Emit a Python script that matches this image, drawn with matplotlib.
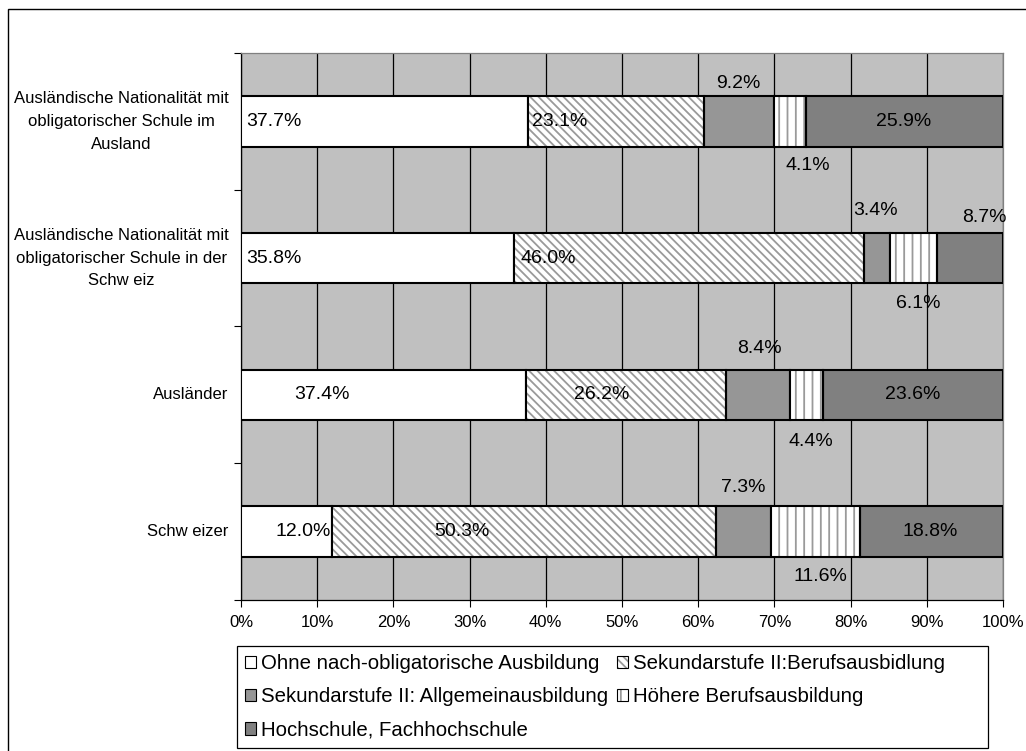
import matplotlib
matplotlib.use("Agg")
import matplotlib.pyplot as plt
from matplotlib.patches import Rectangle, Patch
from matplotlib.legend_handler import HandlerTuple

plt.rcParams["font.family"] = ["Liberation Sans", "DejaVu Sans"]
plt.rcParams["hatch.linewidth"] = 1.3

# categories, bottom to top
categories = [
    "Schw eizer",
    "Ausländer",
    "Ausländische Nationalität mit\nobligatorischer Schule in der\nSchw eiz",
    "Ausländische Nationalität mit\nobligatorischer Schule im\nAusland",
]
series = [
    "Ohne nach-obligatorische Ausbildung",
    "Sekundarstufe II:Berufsausbidlung",
    "Sekundarstufe II: Allgemeinausbildung",
    "Höhere Berufsausbildung",
    "Hochschule, Fachhochschule",
]
ohne = [12.0, 37.4, 35.8, 37.7]
berufs = [50.3, 26.2, 46.0, 23.1]
allgemein = [7.3, 8.4, 3.4, 9.2]
hoehere = [11.6, 4.4, 6.1, 4.1]
hochschule = [18.8, 23.6, 8.7, 25.9]
values = [ohne, berufs, allgemein, hoehere, hochschule]

# label placement (as dragged in the original): x in %, y offset in category units
label_x = [
    [8.1, 29.0, 65.9, 76.1, 90.4],
    [10.6, 47.3, 68.1, 74.8, 88.2],
    [4.3, 40.3, 83.3, 88.9, 97.6],
    [4.3, 41.8, 65.2, 74.4, 86.9],
]
label_dy = [
    [0, 0, 0.32, -0.33, 0],
    [0, 0, 0.34, -0.34, 0],
    [0, 0, 0.35, -0.33, 0.30],
    [0, 0, 0.28, -0.32, 0],
]

styles = [
    dict(face="white", hatch=None, hcol=None),
    dict(face="white", hatch="\\\\\\\\", hcol="#9a9a9a"),
    dict(face="#969696", hatch=None, hcol=None),
    dict(face="white", hatch="||", hcol="#9a9a9a"),
    dict(face="#808080", hatch=None, hcol=None),
]

fig = plt.figure(figsize=(10.26, 7.51), dpi=100)
ax = fig.add_axes([241 / 1026, 1 - 600 / 751, 762 / 1026, 547 / 751])
ax.set_facecolor("#c0c0c0")

ypos = list(range(len(categories)))
bar_h = 0.37
left = [0.0] * len(categories)
handles = []
for vals, st, name in zip(values, styles, series):
    if st["hatch"]:
        ax.barh(ypos, vals, left=left, height=bar_h, color=st["face"],
                hatch=st["hatch"], edgecolor=st["hcol"], linewidth=0, zorder=3)
        ax.barh(ypos, vals, left=left, height=bar_h, fill=False,
                edgecolor="black", linewidth=1.5, zorder=4)
        h = (Patch(facecolor=st["face"], hatch=st["hatch"], edgecolor=st["hcol"], linewidth=0),
             Patch(fill=False, edgecolor="black", linewidth=0.8))
    else:
        ax.barh(ypos, vals, left=left, height=bar_h, color=st["face"],
                edgecolor="black", linewidth=1.5, zorder=3)
        h = Patch(facecolor=st["face"], edgecolor="black", linewidth=0.8)
    handles.append(h)
    left = [l + v for l, v in zip(left, vals)]

for i in ypos:
    for j, vals in enumerate(values):
        ax.text(label_x[i][j], i + label_dy[i][j], f"{vals[i]:.1f}%",
                ha="center", va="center", fontsize=14, zorder=5)

ax.set_xlim(0, 100)
ax.set_ylim(-0.5, len(categories) - 0.5)
ax.set_xticks(range(0, 101, 10))
ax.set_xticklabels([f"{t}%" for t in range(0, 101, 10)])
ax.set_yticks(ypos)
ax.set_yticklabels(categories)
ax.set_yticks([k - 0.5 for k in range(len(categories) + 1)], minor=True)
for lbl in ax.get_yticklabels():
    lbl.set_multialignment("center")
    lbl.set_linespacing(1.65)
    lbl.set_verticalalignment("center")
ax.tick_params(axis="y", which="major", length=0, pad=9, labelsize=12)
ax.tick_params(axis="y", which="minor", length=5, width=0.8, direction="out")
ax.tick_params(axis="x", length=5, width=0.8, direction="out", pad=6, labelsize=12)
ax.grid(axis="x", color="black", linewidth=0.9, zorder=1)
ax.set_axisbelow(True)
for s in ["top", "right"]:
    ax.spines[s].set_color("#808080")
    ax.spines[s].set_linewidth(0.9)
for s in ["left", "bottom"]:
    ax.spines[s].set_color("black")
    ax.spines[s].set_linewidth(0.9)

# legend box
fig.patches.append(Rectangle((237 / 1026, 1 - 748 / 751), (988 - 237) / 1026, 102 / 751,
                             transform=fig.transFigure, fill=False,
                             edgecolor="black", linewidth=0.9))
order = [0, 2, 4, 1, 3]
fig.legend([handles[k] for k in order], [series[k] for k in order],
           handler_map={tuple: HandlerTuple(ndivide=1, pad=0)},
           loc="upper left", bbox_to_anchor=(245 / 1026, 1 - 654 / 751),
           ncol=2, frameon=False, fontsize=14.7, handlelength=0.55,
           handleheight=0.55, handletextpad=0.25, columnspacing=0.4,
           labelspacing=0.7, borderpad=0, borderaxespad=0)

# outer chart border
fig.patches.append(Rectangle((8 / 1026, -0.01), 1.02, 1 - 9 / 751 + 0.01,
                             transform=fig.transFigure, fill=False,
                             edgecolor="black", linewidth=1.0))

fig.savefig("out.png", dpi=100)
